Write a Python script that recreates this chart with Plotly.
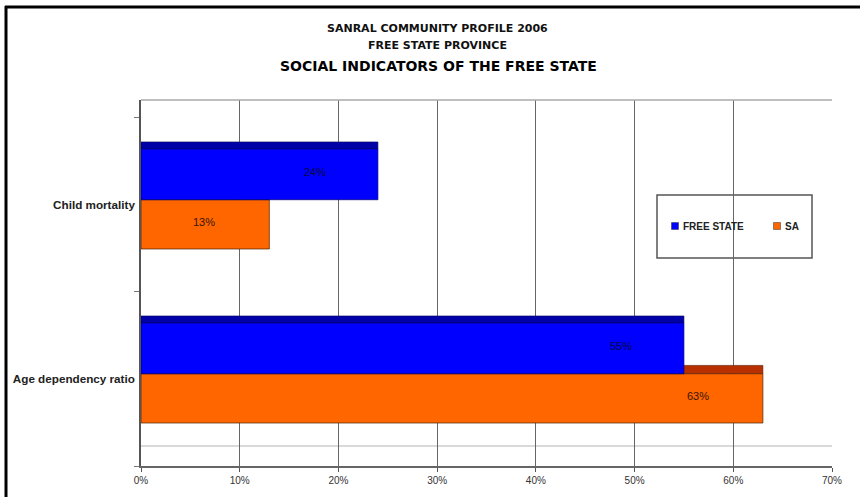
import plotly.graph_objects as go

# Social indicators, Free State vs South Africa
categories = ["Age dependency ratio", "Child mortality"]
series_names = ["FREE STATE", "SA"]
free_state = [0.55, 0.24]
sa = [0.63, 0.13]
x_ticks = [0, 0.1, 0.2, 0.3, 0.4, 0.5, 0.6, 0.7]

BLUE, BLUE_TOP = "#0000FF", "#0000A8"
ORANGE, ORANGE_TOP = "#FF6600", "#B83000"

W, H = 860, 497
L, R, T, B = 141, 28, 100, 31
PW, PH = W - L - R, H - T - B

NARROW = "Liberation Sans Narrow, Liberation Sans"


def px(x):
    return (x - L) / PW


def py(y):
    return (H - B - y) / PH


fig = go.Figure()

# orange top face (depth) sits behind the blue bar
fig.add_bar(y=categories, x=sa, orientation="h", offset=0.03, width=0.048,
            marker=dict(color=ORANGE_TOP, line=dict(color="#5a1a00", width=0.6)),
            showlegend=False, hoverinfo="skip")
fig.add_bar(y=categories, x=sa, orientation="h", offset=-0.253, width=0.283,
            name=series_names[1],
            marker=dict(color=ORANGE, line=dict(color="#4a2000", width=0.7)),
            showlegend=False)
fig.add_bar(y=categories, x=free_state, orientation="h", offset=0.322, width=0.04,
            marker=dict(color=BLUE_TOP, line=dict(color="#000060", width=0.6)),
            showlegend=False, hoverinfo="skip")
fig.add_bar(y=categories, x=free_state, orientation="h", offset=0.03, width=0.292,
            name=series_names[0],
            marker=dict(color=BLUE, line=dict(color="#000070", width=0.7)),
            showlegend=False)

# value labels near the bar ends
annotations = []
for i, v in enumerate(free_state):
    annotations.append(dict(x=v - 0.064, y=i + 0.19, xref="x", yref="y", yanchor="middle",
                            text=f"{round(v * 100)}%", showarrow=False,
                            font=dict(family=NARROW, size=11, color="#0a0a40")))
for i, v in enumerate(sa):
    annotations.append(dict(x=v - 0.066, y=i - 0.1, xref="x", yref="y", yanchor="middle",
                            text=f"{round(v * 100)}%", showarrow=False,
                            font=dict(family=NARROW, size=11, color="#3a1400")))

# titles
title_font = "DejaVu Sans"
annotations += [
    dict(x=px(437), y=py(29), xref="paper", yref="paper", yanchor="middle",
         text="<b>SANRAL COMMUNITY PROFILE 2006</b>",
         showarrow=False, font=dict(family=title_font, size=11, color="#111")),
    dict(x=px(437), y=py(45.5), xref="paper", yref="paper", yanchor="middle",
         text="<b>FREE STATE PROVINCE</b>",
         showarrow=False, font=dict(family=title_font, size=11, color="#111")),
    dict(x=px(438), y=py(66), xref="paper", yref="paper", yanchor="middle",
         text="<b>SOCIAL INDICATORS OF THE FREE STATE</b>",
         showarrow=False, font=dict(family=title_font, size=14, color="#000")),
]

# legend entries
legend_items = [(series_names[0], BLUE, 675), (series_names[1], ORANGE, 777)]
shapes = []
for name, color, x0 in legend_items:
    shapes.append(dict(type="rect", xref="paper", yref="paper",
                       x0=px(x0 - 3.5), x1=px(x0 + 3.5), y0=py(222.5), y1=py(229.5),
                       fillcolor=color, line=dict(color="#333", width=0.5)))
    annotations.append(dict(x=px(x0 + 5.5), y=py(226), xref="paper", yref="paper",
                            xanchor="left", yanchor="middle",
                            text=f"<b>{name}</b>", showarrow=False,
                            font=dict(family=NARROW, size=10, color="#222")))

shapes += [
    # legend box
    dict(type="rect", xref="paper", yref="paper", x0=px(657), x1=px(812), y0=py(258), y1=py(195),
         fillcolor="white", line=dict(color="#555", width=1.5), layer="below"),
    # back wall top edge
    dict(type="line", xref="paper", yref="paper", x0=0, x1=1, y0=1, y1=1,
         line=dict(color="#aaa", width=1.5)),
    # floor edge
    dict(type="line", xref="paper", yref="paper", x0=0, x1=1, y0=py(446), y1=py(446),
         line=dict(color="#ccc", width=1.5), layer="below"),
    # outer frame
    dict(type="line", xref="paper", yref="paper", x0=px(6), x1=px(6), y0=py(6), y1=py(520),
         line=dict(color="black", width=3)),
    dict(type="line", xref="paper", yref="paper", x0=px(5), x1=px(880), y0=py(7), y1=py(7),
         line=dict(color="black", width=3)),
]

fig.update_layout(
    width=W, height=H,
    margin=dict(l=L, r=R, t=T, b=B),
    paper_bgcolor="white", plot_bgcolor="white",
    barmode="overlay",
    showlegend=False,
    annotations=annotations,
    shapes=shapes,
    xaxis=dict(
        range=[0, 0.7], tickvals=x_ticks, tickformat=".0%",
        showgrid=True, gridcolor="#666", gridwidth=1,
        showline=True, linecolor="#666", linewidth=2,
        ticks="outside", ticklen=4, tickcolor="#555",
        tickfont=dict(family=NARROW, size=10, color="#333"),
        zeroline=False, automargin=False,
    ),
    yaxis=dict(
        type="category", categoryorder="array", categoryarray=categories,
        range=[-0.5, 1.603], tickson="boundaries",
        ticks="outside", ticklen=5, tickcolor="#777",
        showline=True, linecolor="#555", linewidth=1.5,
        showgrid=False,
        tickfont=dict(family="Liberation Sans", size=11.7, color="#222"),
        ticklabelstandoff=2, automargin=False,
    ),
)
fig.update_yaxes(ticktext=[f"<b>{c}</b>" for c in categories], tickvals=categories)

fig.write_html("out.html")
